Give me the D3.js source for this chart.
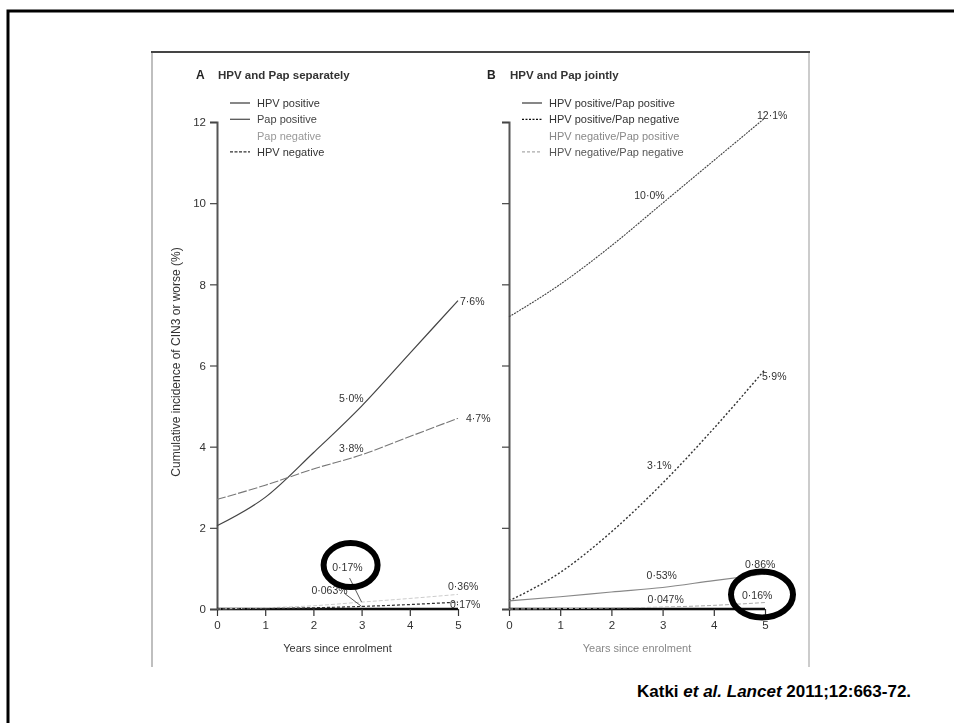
<!DOCTYPE html>
<html>
<head>
<meta charset="utf-8">
<script src="https://cdn.jsdelivr.net/npm/d3@7"></script>
<style>
  html, body { margin: 0; padding: 0; background: #fff; }
  svg { display: block; }
  .fig text { font-family: "Liberation Sans", Arial, sans-serif; fill: #333; }
</style>
</head>
<body>
<svg id="chart" width="954" height="723">
  <defs>
    <filter id="soft" x="-5%" y="-5%" width="110%" height="110%">
      <feGaussianBlur stdDeviation="0.35"/>
    </filter>
  </defs>
</svg>
<script>
// ---- data: cumulative incidence of CIN3+ (%) by years since enrolment ----
const years = [0, 1, 2, 3, 4, 5];
const yTicks = [0, 2, 4, 6, 8, 10, 12];

// Panel A: HPV and Pap separately
const hpvPositive = [2.05, 2.75, 3.85, 5.0, 6.3, 7.6];
const papPositive = [2.7, 3.05, 3.45, 3.8, 4.25, 4.7];
const papNegative = [0, 0.03, 0.08, 0.17, 0.26, 0.36];
const hpvNegative = [0, 0.01, 0.03, 0.063, 0.11, 0.17];

// Panel B: HPV and Pap jointly
const hpvPosPapPos = [7.2, 8.0, 8.95, 10.0, 11.05, 12.1];
const hpvPosPapNeg = [0.2, 0.9, 1.9, 3.1, 4.45, 5.9];
const hpvNegPapPos = [0.2, 0.3, 0.42, 0.53, 0.7, 0.86];
const hpvNegPapNeg = [0, 0.01, 0.025, 0.047, 0.09, 0.16];

const seriesA = ["HPV positive", "Pap positive", "Pap negative", "HPV negative"];
const seriesB = ["HPV positive/Pap positive", "HPV positive/Pap negative",
                 "HPV negative/Pap positive", "HPV negative/Pap negative"];

// percentages use the Lancet mid-dot decimal; values of 1% or more keep one decimal
const fmt = v => (v >= 1 ? v.toFixed(1) : String(v)).replace(".", "·") + "%";

// ---- drawing ----
const svg = d3.select("#chart");

// slide frame
svg.append("rect").attr("x", 8).attr("y", 11).attr("width", 980).attr("height", 760)
  .attr("fill", "none").attr("stroke", "#000").attr("stroke-width", 3);

// figure frame
const fig = svg.append("g").attr("class", "fig").attr("filter", "url(#soft)");
fig.append("line").attr("x1", 152).attr("x2", 152).attr("y1", 52).attr("y2", 667)
  .attr("stroke", "#aaa").attr("stroke-width", 1.5);
fig.append("line").attr("x1", 809).attr("x2", 809).attr("y1", 52).attr("y2", 667)
  .attr("stroke", "#bbb").attr("stroke-width", 1.5);
fig.append("line").attr("x1", 151).attr("x2", 810).attr("y1", 52).attr("y2", 52)
  .attr("stroke", "#444").attr("stroke-width", 2);

const y = d3.scaleLinear().domain([0, 12]).range([609, 122]);

const styles = {
  "HPV positive":              { stroke: "#444", width: 1.2, dash: null,  legend: "#444", legendDash: null,  text: "#333" },
  "Pap positive":              { stroke: "#777", width: 1.1, dash: "9,2", legend: "#555", legendDash: null,  text: "#444" },
  "Pap negative":              { stroke: "#ccc", width: 1.0, dash: "4,2", legend: "#fff", legendDash: null,  text: "#999" },
  "HPV negative":              { stroke: "#333", width: 1.2, dash: "3,2", legend: "#333", legendDash: "3,1.5", text: "#333" },
  "HPV positive/Pap positive": { stroke: "#444", width: 1.1, dash: "2,1", legend: "#444", legendDash: null,  text: "#333" },
  "HPV positive/Pap negative": { stroke: "#333", width: 1.4, dash: "2,2", legend: "#111", legendDash: "2,1.5", text: "#333" },
  "HPV negative/Pap positive": { stroke: "#888", width: 1.1, dash: null,  legend: "#fff", legendDash: null,  text: "#888" },
  "HPV negative/Pap negative": { stroke: "#aaa", width: 1.0, dash: "4,2", legend: "#aaa", legendDash: "3,2", text: "#555" }
};

function panel(opts) {
  const x = d3.scaleLinear().domain([0, 5]).range(opts.xRange);
  const g = fig.append("g");

  // titles
  g.append("text").attr("x", opts.letterX).attr("y", 79)
    .attr("font-size", 12).attr("font-weight", "bold").style("fill", "#222").text(opts.letter);
  g.append("text").attr("x", opts.titleX).attr("y", 79)
    .attr("font-size", 11.5).attr("font-weight", "bold").style("fill", "#333").text(opts.title);

  // legend
  opts.names.forEach((n, i) => {
    const st = styles[n];
    const ly = 103 + i * 16.3;
    g.append("line").attr("x1", opts.legendX).attr("x2", opts.legendX + 20)
      .attr("y1", ly).attr("y2", ly)
      .attr("stroke", st.legend).attr("stroke-width", 1.3)
      .attr("stroke-dasharray", st.legendDash);
    g.append("text").attr("x", opts.legendX + 27).attr("y", ly + 4)
      .attr("font-size", 11).style("fill", st.text).text(n);
  });

  // y axis
  const ya = g.append("g").attr("transform", `translate(${opts.xRange[0]},0)`)
    .call(d3.axisLeft(y).tickValues(yTicks).tickSize(7).tickPadding(4)
      .tickFormat(opts.yLabels ? d3.format("d") : ""));
  ya.select(".domain").attr("stroke", "#555").attr("stroke-width", 2);
  ya.selectAll(".tick line").attr("stroke", "#444").attr("stroke-width", 1.2);
  ya.selectAll(".tick text").attr("font-size", 11.5).attr("font-family", null).style("fill", "#333");

  // x axis
  const xa = g.append("g").attr("transform", "translate(0,609)")
    .call(d3.axisBottom(x).tickValues(years).tickSize(7).tickPadding(5).tickFormat(d3.format("d")));
  xa.select(".domain").attr("stroke", "#111").attr("stroke-width", 2.5)
    .attr("d", `M${opts.xRange[0]},0H${opts.xRange[1]}`);
  xa.selectAll(".tick line").attr("stroke", "#333").attr("stroke-width", 1.2);
  xa.selectAll(".tick text").attr("font-size", 11.5).attr("font-family", null).style("fill", "#333");

  g.append("text").attr("x", (opts.xRange[0] + opts.xRange[1]) / 2).attr("y", 652)
    .attr("text-anchor", "middle").attr("font-size", 11).style("fill", opts.xTitleColor)
    .text("Years since enrolment");

  // series
  const line = d3.line().x((d, i) => x(years[i])).y(d => y(d)).curve(d3.curveMonotoneX);
  opts.names.forEach((n, k) => {
    const st = styles[n];
    g.append("path").datum(opts.values[k])
      .attr("fill", "none").attr("stroke", st.stroke).attr("stroke-width", st.width)
      .attr("stroke-dasharray", st.dash).attr("d", line);
  });

  // value labels (with optional leader lines)
  opts.labels.forEach(l => {
    const v = opts.values[l.s][years.indexOf(l.yr)];
    const px = x(l.yr), py = y(v);
    if (l.lead) {
      g.append("line").attr("x1", px + l.lead[0]).attr("y1", py + l.lead[1])
        .attr("x2", px).attr("y2", py).attr("stroke", "#444").attr("stroke-width", 0.9);
    }
    g.append("text").attr("x", px + l.dx).attr("y", py + l.dy)
      .attr("text-anchor", l.anchor).attr("font-size", 10.5).style("fill", "#333")
      .text(fmt(v));
  });

  // highlight rings
  opts.rings.forEach(r => {
    const v = opts.values[r.s][years.indexOf(r.yr)];
    g.append("ellipse").attr("cx", x(r.yr) + r.dx).attr("cy", y(v) + r.dy)
      .attr("rx", r.rx).attr("ry", r.ry)
      .attr("fill", "none").attr("stroke", "#000").attr("stroke-width", 6);
  });
  return g;
}

panel({
  letter: "A", letterX: 196, titleX: 218, title: "HPV and Pap separately",
  xRange: [217, 458], yLabels: true, legendX: 230, xTitleColor: "#333",
  names: seriesA, values: [hpvPositive, papPositive, papNegative, hpvNegative],
  labels: [
    { s: 0, yr: 5, dx: 2,   dy: 4,   anchor: "start" },
    { s: 0, yr: 3, dx: 2,   dy: -4,  anchor: "end" },
    { s: 1, yr: 5, dx: 8,   dy: 4,   anchor: "start" },
    { s: 1, yr: 3, dx: 2,   dy: -3,  anchor: "end" },
    { s: 2, yr: 3, dx: 1,   dy: -31, anchor: "end", lead: [-12, -24] },
    { s: 3, yr: 3, dx: -14, dy: -12, anchor: "end", lead: [-17, -13] },
    { s: 2, yr: 5, dx: -10, dy: -4,  anchor: "start" },
    { s: 3, yr: 5, dx: -8,  dy: 6,   anchor: "start" }
  ],
  rings: [{ s: 2, yr: 3, dx: -11, dy: -37, rx: 27, ry: 22 }]
});

panel({
  letter: "B", letterX: 487, titleX: 510, title: "HPV and Pap jointly",
  xRange: [509, 765], yLabels: false, legendX: 522, xTitleColor: "#888",
  names: seriesB, values: [hpvPosPapPos, hpvPosPapNeg, hpvNegPapPos, hpvNegPapNeg],
  labels: [
    { s: 0, yr: 5, dx: -8,  dy: 1,   anchor: "start" },
    { s: 0, yr: 3, dx: 2,   dy: -4,  anchor: "end" },
    { s: 1, yr: 5, dx: -3,  dy: 10,  anchor: "start" },
    { s: 1, yr: 3, dx: 9,   dy: -14, anchor: "end" },
    { s: 2, yr: 5, dx: -20, dy: -6,  anchor: "start" },
    { s: 2, yr: 3, dx: -16, dy: -8,  anchor: "start" },
    { s: 3, yr: 3, dx: -15, dy: -4,  anchor: "start" },
    { s: 3, yr: 5, dx: -23, dy: -4,  anchor: "start" }
  ],
  rings: [{ s: 3, yr: 5, dx: -3, dy: -8, rx: 31, ry: 23 }]
});

// y axis title (panel A)
fig.append("text").attr("transform", "translate(180,362) rotate(-90)")
  .attr("text-anchor", "middle").attr("font-size", 12).style("fill", "#333")
  .text("Cumulative incidence of CIN3 or worse (%)");

// citation
const cite = svg.append("text").attr("x", 637).attr("y", 697)
  .attr("font-family", "'Liberation Sans', Arial, sans-serif")
  .attr("font-size", 17).attr("font-weight", "bold").attr("fill", "#000");
cite.append("tspan").text("Katki ");
cite.append("tspan").attr("font-style", "italic").text("et al. Lancet");
cite.append("tspan").text(" 2011;12:663-72.");
</script>
</body>
</html>
